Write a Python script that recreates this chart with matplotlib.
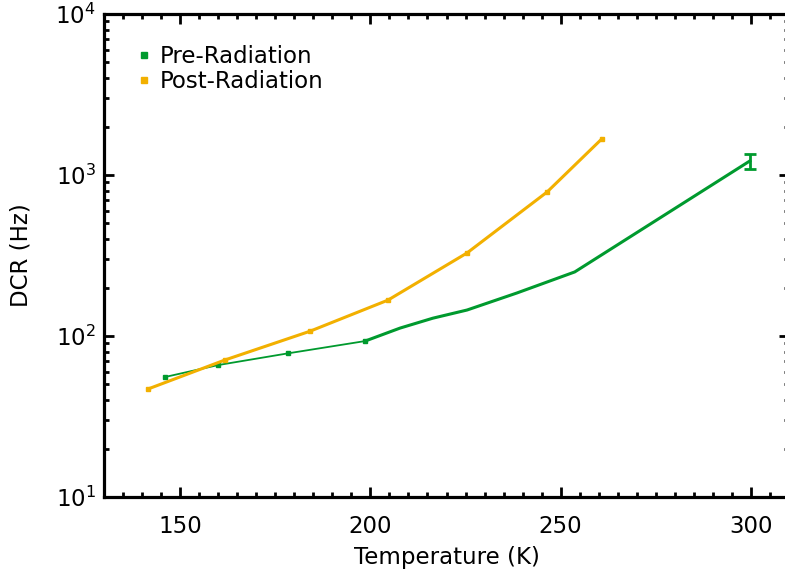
import numpy as np
import matplotlib
matplotlib.use('Agg')
import matplotlib.pyplot as plt
from matplotlib.lines import Line2D
from matplotlib.ticker import MultipleLocator, LogLocator, NullFormatter

plt.rcParams['font.family'] = 'DejaVu Sans'
plt.rcParams['font.size'] = 16.5

green = '#009a2e'
orange = '#f2b000'

# Pre-Radiation, low temperature run (thin line)
pre_low_T = [146, 160, 178.3, 198.6]
pre_low_dcr = [55.6, 66, 78, 93]
# Pre-Radiation, high temperature run (thick line)
pre_high_T = [198.6, 207.8, 216.4, 225.4, 238.5, 253.7, 299.7]
pre_high_dcr = [93, 112, 129, 145, 185, 250, 1222]
pre_last_err = 135

# Post-Radiation
post_T = [141.6, 161.8, 184.1, 204.6, 225.4, 246.4, 260.8]
post_dcr = [46.9, 71, 107, 167, 328, 783, 1675]

fig = plt.figure(figsize=(7.85, 5.83), dpi=100)
ax = fig.add_axes([0.1325, 0.1475, 0.8726, 0.8285])

ax.plot(pre_low_T, pre_low_dcr, '-', color=green, lw=1.3,
        marker='s', ms=3.5, mec=green)
ax.plot(pre_high_T, pre_high_dcr, '-', color=green, lw=2.2)
ax.errorbar(pre_high_T[-1:], pre_high_dcr[-1:], yerr=pre_last_err, fmt='none',
            ecolor=green, elinewidth=2, capsize=4, capthick=2)
ax.plot(post_T, post_dcr, '-', color=orange, lw=2.2,
        marker='s', ms=3.5, mec=orange)

ax.set_yscale('log')
ax.set_xlim(130, 310)
ax.set_ylim(10, 1e4)

ax.xaxis.set_major_locator(MultipleLocator(50))
ax.xaxis.set_minor_locator(MultipleLocator(5))
ax.yaxis.set_major_locator(LogLocator(base=10))
ax.yaxis.set_minor_locator(LogLocator(base=10, subs=np.arange(2, 10)))
ax.yaxis.set_minor_formatter(NullFormatter())

ax.tick_params(which='both', direction='in', top=True, right=True, width=2, colors='black')
ax.tick_params(which='major', length=7, pad=13)
ax.tick_params(which='minor', length=3.5)
ax.tick_params(axis='y', which='major', pad=6)
for s in ax.spines.values():
    s.set_linewidth(2.3)

ax.set_xlabel('Temperature (K)', labelpad=6)
ax.set_ylabel('DCR (Hz)', labelpad=16)

handles = [Line2D([], [], ls='none', marker='s', ms=4, color=green),
           Line2D([], [], ls='none', marker='s', ms=4, color=orange)]
ax.legend(handles, ['Pre-Radiation', 'Post-Radiation'], loc='upper left',
          bbox_to_anchor=(0.035, 0.955), frameon=False, handlelength=0.6,
          handletextpad=0.4, labelspacing=0.08, borderaxespad=0)

fig.savefig('out.png', dpi=100)
